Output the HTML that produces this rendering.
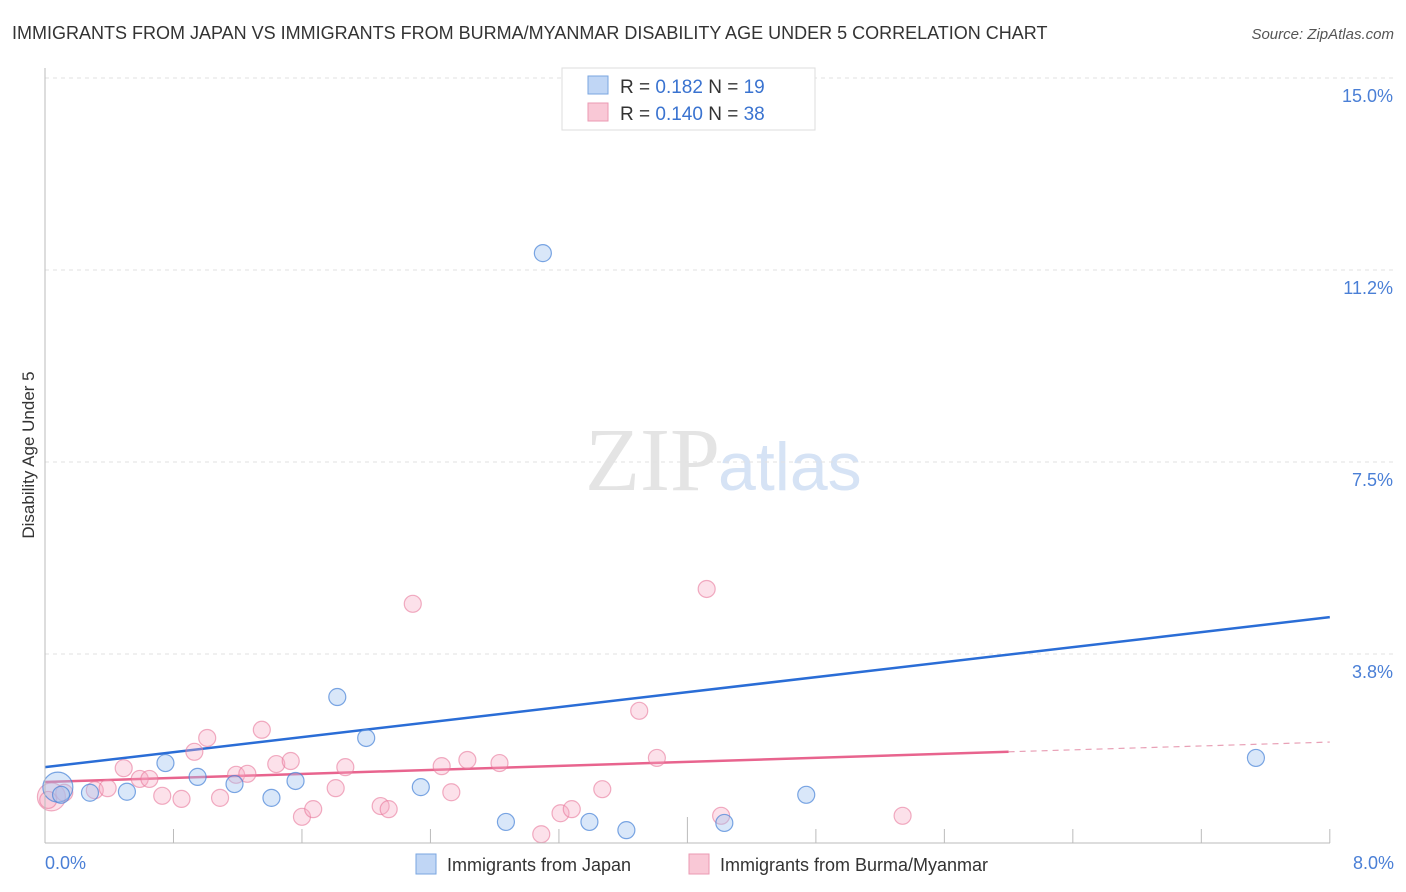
<!DOCTYPE html>
<html><head><meta charset="utf-8"><style>
body{margin:0;background:#fff;font-family:"Liberation Sans",sans-serif;}
svg{display:block}
</style></head><body>
<svg id="chart" width="1406" height="892" xmlns="http://www.w3.org/2000/svg">
<text x="12" y="39" font-size="18" fill="#333">IMMIGRANTS FROM JAPAN VS IMMIGRANTS FROM BURMA/MYANMAR DISABILITY AGE UNDER 5 CORRELATION CHART</text>
<text x="1394" y="39" font-size="15" fill="#555" font-style="italic" text-anchor="end">Source: ZipAtlas.com</text>
<text x="720" y="490" font-size="90" fill="#e4e4e4" text-anchor="end" font-family="Liberation Serif,serif">ZIP</text>
<text x="718" y="490" font-size="68" fill="#d6e3f5">atlas</text>
<text transform="translate(34,455) rotate(-90)" font-size="17" fill="#333" text-anchor="middle">Disability Age Under 5</text>
<g id="grid"></g><g id="ticks"></g><g id="lines"></g><g id="pts"></g>
<line x1="45" y1="68" x2="45" y2="843" stroke="#bbb"/>
<line x1="45" y1="843" x2="1330" y2="843" stroke="#bbb"/>
<text x="45" y="869" font-size="18" fill="#4a7fd6">0.0%</text>
<text x="1394" y="869" font-size="18" fill="#4a7fd6" text-anchor="end">8.0%</text>
<g>
<rect x="562" y="68" width="253" height="62" fill="#fff" stroke="#ddd"/>
<rect x="588" y="76" width="20" height="18" fill="#c0d6f5" stroke="#7aa6e0"/>
<rect x="588" y="103" width="20" height="18" fill="#f9c8d6" stroke="#eb9ab3"/>
<text x="620" y="93" font-size="19" fill="#333">R = <tspan fill="#3a73d0">0.182</tspan>   N = <tspan fill="#3a73d0">19</tspan></text>
<text x="620" y="120" font-size="19" fill="#333">R = <tspan fill="#3a73d0">0.140</tspan>   N = <tspan fill="#3a73d0">38</tspan></text>
</g>
<g><rect x="416" y="854" width="20" height="20" fill="#c0d6f5" stroke="#7aa6e0"/><text x="447" y="871" font-size="18" fill="#333">Immigrants from Japan</text></g>
<g><rect x="689" y="854" width="20" height="20" fill="#f9c8d6" stroke="#eb9ab3"/><text x="720" y="871" font-size="18" fill="#333">Immigrants from Burma/Myanmar</text></g>
</svg>
<script>
const yTicks=[3.75,7.5,11.25,15];
const yTickLabels=["3.8%","7.5%","11.2%","15.0%"];
const xTicks=[0.8,1.6,2.4,3.2,4.0,4.8,5.6,6.4,7.2,8.0];
const japanX=[0.08,0.28,0.51,0.75,0.95,1.18,1.41,1.56,1.82,2.00,2.34,2.87,3.10,3.39,3.62,4.23,4.74,7.54,0.1];
const japanY=[1.15,1.04,1.06,1.62,1.35,1.21,0.94,1.27,2.91,2.11,1.15,0.47,11.58,0.47,0.31,0.45,1.00,1.72,1.0];
const burmaX=[0.04,0.12,0.31,0.39,0.49,0.59,0.65,0.73,0.85,0.93,1.01,1.09,1.19,1.26,1.35,1.44,1.53,1.60,1.67,1.81,1.87,2.09,2.14,2.29,2.47,2.53,2.63,2.83,3.09,3.21,3.28,3.47,3.70,3.81,4.12,4.21,5.34,0.02];
const burmaY=[0.96,1.04,1.09,1.13,1.52,1.31,1.31,0.98,0.92,1.84,2.11,0.94,1.39,1.41,2.27,1.60,1.66,0.57,0.72,1.13,1.54,0.78,0.72,4.73,1.56,1.05,1.68,1.62,0.23,0.64,0.72,1.11,2.64,1.72,5.02,0.59,0.59,0.9];
const japanTrend=[1.54,4.47];
const burmaTrend=[1.25,1.84,2.03];
const burmaSolidEnd=6.0;
const NS="http://www.w3.org/2000/svg";
const sx=v=>45+v*160.6, sy=v=>846-v*51.2;
function mk(tag,at,parent){const e=document.createElementNS(NS,tag);for(const k in at)e.setAttribute(k,at[k]);document.getElementById(parent).appendChild(e);return e;}
yTicks.forEach((t,i)=>{
 const l=mk('line',{x1:45,x2:1394,y1:sy(t),y2:sy(t),stroke:'#e2e2e2','stroke-dasharray':'4,4'},'grid');
 
 
 const tx=mk('text',{x:1393,y:sy(t)+24,'font-size':18,fill:'#4a7fd6','text-anchor':'end'},'grid');
 tx.textContent=yTickLabels[i];
 
 
});
xTicks.forEach((t,i)=>{
 const l=mk('line',{x1:sx(t),x2:sx(t),y1:(i==4?817:829),y2:843,stroke:'#bbb'},'ticks');
 
 
});
let a=mk('line',{x1:sx(0),y1:sy(japanTrend[0]),x2:sx(8),y2:sy(japanTrend[1]),stroke:'#2a6dd6','stroke-width':2.5},'lines');


a=mk('line',{x1:sx(0),y1:sy(burmaTrend[0]),x2:sx(burmaSolidEnd),y2:sy(burmaTrend[1]),stroke:'#e8648e','stroke-width':2.5},'lines');


a=mk('line',{x1:sx(burmaSolidEnd),y1:sy(burmaTrend[1]),x2:sx(8),y2:sy(burmaTrend[2]),stroke:'#e8a0b6','stroke-width':1.2,'stroke-dasharray':'6,5'},'lines');


burmaX.forEach((x,i)=>{
 const c=mk('circle',{cx:sx(x),cy:sy(burmaY[i]),r:i==0?14:8.5,fill:'rgba(246,170,195,0.35)',stroke:'rgba(232,120,155,0.6)','stroke-width':1.2},'pts');
 
 
});
japanX.forEach((x,i)=>{
 const c=mk('circle',{cx:sx(x),cy:sy(japanY[i]),r:i==0?15:8.5,fill:'rgba(160,195,240,0.4)',stroke:'rgba(70,130,215,0.7)','stroke-width':1.2},'pts');
 
 
});
</script>
</body></html>
